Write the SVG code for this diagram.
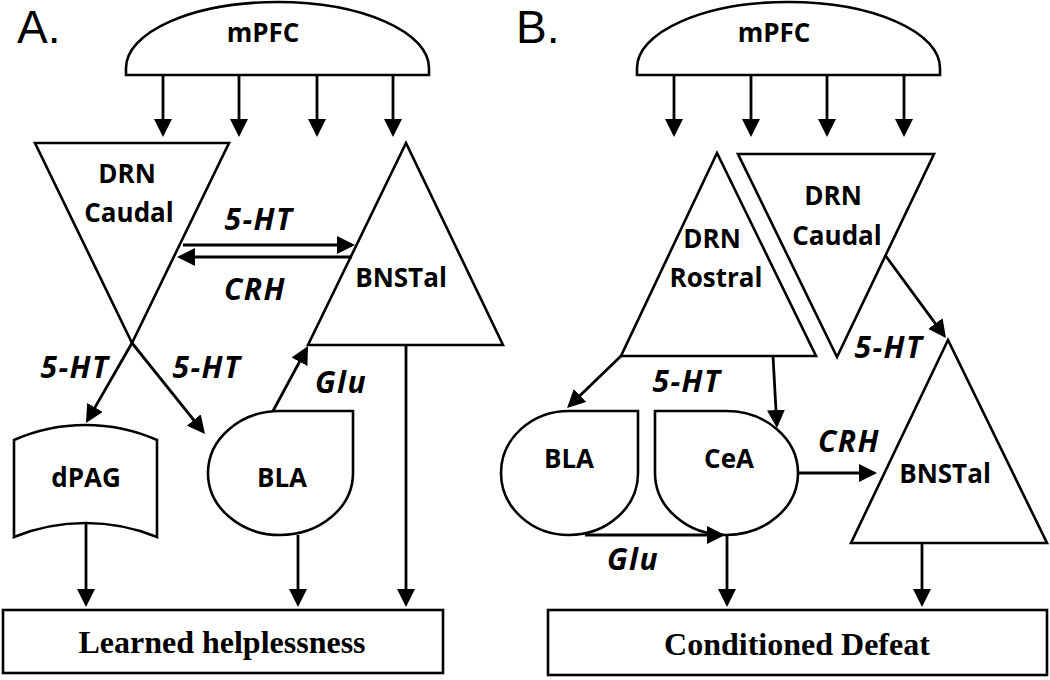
<svg xmlns="http://www.w3.org/2000/svg" width="1050" height="680" viewBox="0 0 1050 680">
<defs>
<marker id="ah" markerUnits="userSpaceOnUse" markerWidth="18" markerHeight="18" refX="15" refY="9" orient="auto">
<path d="M0,0 L18,9 L0,18 Z" fill="#000"/>
</marker>
<style>
.s{fill:#fff;stroke:#000;stroke-width:2.6;stroke-linejoin:miter}
.c{fill:none;stroke:#000;stroke-width:2.8;marker-end:url(#ah)}
.n{font-family:"Open Sans","Noto Sans",sans-serif;font-weight:bold;font-size:26px;text-anchor:middle;fill:#000}
.i{font-family:"Open Sans","Noto Sans",sans-serif;font-weight:bold;font-style:italic;font-size:30px;letter-spacing:1.5px;text-anchor:middle;fill:#000}
.o{font-family:"Liberation Serif","Times New Roman",serif;font-weight:bold;font-size:32px;text-anchor:middle;fill:#000}
.p{font-family:"Liberation Sans",Arial,sans-serif;font-size:46px;fill:#000}
</style>
</defs>
<rect width="1050" height="680" fill="#fff"/>
<text class="p" x="17" y="43">A.</text>
<text class="p" x="516" y="43">B.</text>

<!-- Panel A nodes -->
<g id="A-mPFC"><path class="s" d="M126,75 L126,68 A151.5,66 0 0 1 429,68 L429,75 Z"/><text class="n" x="263" y="42">mPFC</text></g>
<g id="A-DRNCaudal"><polygon class="s" points="35,143 229,143 132,343"/><text class="n" x="127" y="183">DRN</text><text class="n" x="129" y="222">Caudal</text></g>
<g id="A-BNSTal"><polygon class="s" points="406,143 308,345 503,345"/><text class="n" x="401" y="287">BNSTal</text></g>
<g id="A-dPAG"><path class="s" d="M14,440 A178,178 0 0 1 157,440 L157,537 A190,190 0 0 0 14,537 Z"/><text class="n" x="86" y="487">dPAG</text></g>
<g id="A-BLA"><path class="s" d="M280,411 L353,411 L353,473 A73,62 0 0 1 280,535 A72,62 0 0 1 208,473 A72,62 0 0 1 280,411 Z"/><text class="n" x="282" y="487">BLA</text></g>
<g id="A-LH"><rect class="s" x="3" y="610" width="440" height="63"/><text class="o" x="222" y="653">Learned helplessness</text></g>

<!-- Panel B nodes -->
<g id="B-mPFC"><path class="s" d="M637,75 L637,68 A151.5,66 0 0 1 940,68 L940,75 Z"/><text class="n" x="774" y="42">mPFC</text></g>
<g id="B-DRNRostral"><polygon class="s" points="717,153 621,356 816,356"/><text class="n" x="712" y="248">DRN</text><text class="n" x="716" y="287">Rostral</text></g>
<g id="B-DRNCaudal"><polygon class="s" points="738,154 934,154 837,357"/><text class="n" x="833" y="205">DRN</text><text class="n" x="837" y="245">Caudal</text></g>
<g id="B-BNSTal"><polygon class="s" points="948,340 851,543 1047,543"/><text class="n" x="945" y="483">BNSTal</text></g>
<g id="B-BLA"><path class="s" d="M569,411 L638,411 L638,473 A69,62 0 0 1 569,535 A68,62 0 0 1 501,473 A68,62 0 0 1 569,411 Z"/><text class="n" x="569" y="468">BLA</text></g>
<g id="B-CeA"><path class="s" d="M726,411 L655,411 L655,473 A71,62 0 0 0 726,535 A72,62 0 0 0 798,473 A72,62 0 0 0 726,411 Z"/><text class="n" x="729" y="468">CeA</text></g>
<g id="B-CD"><rect class="s" x="548" y="610" width="499" height="65"/><text class="o" x="797" y="655">Conditioned Defeat</text></g>

<!-- Connectors -->
<g id="connectors">
<line class="c" x1="163" y1="75" x2="163" y2="134"/>
<line class="c" x1="239" y1="75" x2="239" y2="134"/>
<line class="c" x1="317" y1="75" x2="317" y2="134"/>
<line class="c" x1="393" y1="75" x2="393" y2="134"/>
<line class="c" x1="183" y1="245" x2="352" y2="245"/>
<line class="c" x1="352" y1="257" x2="180" y2="257"/>
<line class="c" x1="132" y1="343" x2="87.5" y2="420.4"/>
<line class="c" x1="132" y1="343" x2="203.1" y2="431.7"/>
<line class="c" x1="273" y1="411" x2="306.6" y2="348.6"/>
<line class="c" x1="86" y1="523" x2="86" y2="604"/>
<line class="c" x1="298" y1="535" x2="298" y2="604"/>
<line class="c" x1="406" y1="345" x2="406" y2="604"/>

<line class="c" x1="674" y1="75" x2="674" y2="134"/>
<line class="c" x1="751" y1="75" x2="751" y2="134"/>
<line class="c" x1="827" y1="75" x2="827" y2="134"/>
<line class="c" x1="904" y1="75" x2="904" y2="134"/>
<line class="c" x1="621" y1="356" x2="569.2" y2="405.9"/>
<line class="c" x1="773" y1="356" x2="776.8" y2="425"/>
<line class="c" x1="885" y1="255" x2="944.2" y2="335.6"/>
<line class="c" x1="585" y1="535" x2="722" y2="535"/>
<line class="c" x1="727" y1="535" x2="727" y2="604"/>
<line class="c" x1="798" y1="473" x2="874" y2="473"/>
<line class="c" x1="922" y1="543" x2="922" y2="604"/>
</g>

<!-- Connector labels -->
<g id="labels">
<text class="i" x="259" y="230">5-HT</text>
<text class="i" x="255" y="300">CRH</text>
<text class="i" x="75" y="378">5-HT</text>
<text class="i" x="207" y="378">5-HT</text>
<text class="i" x="341" y="393">Glu</text>
<text class="i" x="889" y="358">5-HT</text>
<text class="i" x="687" y="392">5-HT</text>
<text class="i" x="849" y="452">CRH</text>
<text class="i" x="633" y="570">Glu</text>
</g>
</svg>
